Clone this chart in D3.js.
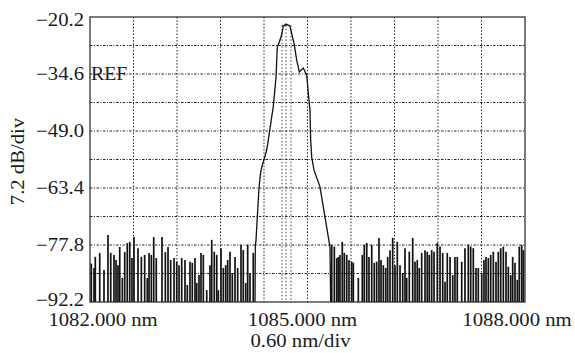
<!DOCTYPE html>
<html>
<head>
<meta charset="utf-8">
<script src="https://cdn.jsdelivr.net/npm/d3@7"></script>
<style>
  html, body { margin: 0; padding: 0; background: #fff; }
  svg { display: block; }
  text { font-family: "Liberation Serif", "DejaVu Serif", serif; fill: #1a1a1a; }
</style>
</head>
<body>
<div id="chart"></div>
<script>
// wavelength axis (nm) and level axis (dB)
const xDomain = [1082, 1088];
const yDomain = [-92.2, -20.2];
const xTickValues = [1082, 1085, 1088];
const xTickLabels = ['1082.000 nm', '1085.000 nm', '1088.000 nm'];
const yTickValues = [-20.2, -34.6, -49.0, -63.4, -77.8, -92.2];
const yTickLabels = ['\u221220.2', '\u221234.6', '\u221249.0', '\u221263.4', '\u221277.8', '\u221292.2'];

// main emission peak
const peakNm = [1084.276, 1084.280, 1084.290, 1084.308, 1084.331, 1084.354, 1084.377, 1084.400,
  1084.437, 1084.459, 1084.506, 1084.528, 1084.566, 1084.583, 1084.611, 1084.644, 1084.666,
  1084.703, 1084.759, 1084.796, 1084.814, 1084.851, 1084.887, 1084.942, 1084.989, 1085.011,
  1085.034, 1085.044, 1085.058, 1085.090, 1085.172, 1085.241, 1085.287, 1085.310, 1085.320];
const peakDb = [-92.2, -78.3, -76.5, -70.7, -63.4, -59.4, -57.6, -56.3,
  -53.8, -51.3, -45.5, -42.9, -35.4, -27.8, -26.5, -24.7, -22.5,
  -22.0, -22.5, -25.5, -26.8, -31.1, -34.1, -33.1, -34.9, -39.4,
  -43.7, -51.3, -55.6, -58.9, -63.1, -70.7, -75.8, -78.3, -92.2];

// noise floor spikes
const noiseNm = [1082.018, 1082.055, 1082.073, 1082.134, 1082.193, 1082.248, 1082.286, 1082.331,
  1082.359, 1082.386, 1082.410, 1082.446, 1082.479, 1082.514, 1082.548, 1082.579, 1082.607,
  1082.662, 1082.708, 1082.754, 1082.790, 1082.814, 1082.846, 1082.879, 1082.914, 1082.993,
  1083.039, 1083.076, 1083.113, 1083.159, 1083.196, 1083.228, 1083.265, 1083.310, 1083.342,
  1083.379, 1083.411, 1083.448, 1083.472, 1083.503, 1083.531, 1083.563, 1083.610, 1083.655,
  1083.679, 1083.714, 1083.748, 1083.770, 1083.807, 1083.839, 1083.872, 1083.899, 1083.931,
  1083.963, 1084.000, 1084.037, 1084.083, 1084.114, 1084.148, 1084.175, 1084.207, 1084.252,
  1085.334, 1085.370, 1085.403, 1085.425, 1085.448, 1085.480, 1085.508, 1085.541, 1085.572,
  1085.610, 1085.632, 1085.701, 1085.756, 1085.783, 1085.817, 1085.848, 1085.886, 1085.921,
  1085.954, 1085.986, 1086.014, 1086.046, 1086.079, 1086.106, 1086.138, 1086.175, 1086.207,
  1086.239, 1086.276, 1086.313, 1086.345, 1086.368, 1086.404, 1086.451, 1086.483, 1086.514,
  1086.542, 1086.575, 1086.621, 1086.652, 1086.680, 1086.713, 1086.745, 1086.790, 1086.828,
  1086.865, 1086.897, 1086.928, 1086.966, 1087.003, 1087.034, 1087.066, 1087.127, 1087.172,
  1087.218, 1087.251, 1087.287, 1087.324, 1087.356, 1087.403, 1087.434, 1087.462, 1087.494,
  1087.527, 1087.563, 1087.600, 1087.632, 1087.665, 1087.701, 1087.738, 1087.770, 1087.803,
  1087.830, 1087.862, 1087.894, 1087.921, 1087.954, 1087.977];
const noiseDb = [-82.5, -83.6, -80.8, -79.8, -84.1, -75.3, -79.8, -80.3,
  -81.6, -82.9, -78.3, -86.1, -79.6, -77.3, -77.0, -81.1, -75.8,
  -78.6, -80.8, -80.3, -86.1, -79.8, -80.3, -75.8, -81.1, -75.8,
  -79.6, -78.3, -81.6, -81.1, -82.0, -82.9, -81.1, -81.6, -87.9,
  -82.0, -82.3, -81.1, -87.4, -85.4, -79.8, -80.3, -89.2, -82.9,
  -76.5, -79.5, -80.3, -89.2, -78.6, -83.6, -82.9, -81.6, -79.5,
  -84.9, -80.8, -83.6, -77.8, -79.1, -87.4, -77.8, -84.9, -79.8,
  -77.8, -78.2, -81.1, -80.8, -80.3, -77.0, -79.8, -80.3, -81.6,
  -82.0, -82.3, -86.1, -80.3, -77.8, -77.3, -80.8, -77.8, -82.3,
  -82.0, -76.0, -81.6, -82.9, -83.6, -80.8, -79.1, -76.0, -82.9,
  -77.0, -82.9, -84.9, -78.6, -86.1, -79.5, -76.0, -82.0, -81.6,
  -83.6, -79.8, -79.1, -79.5, -80.3, -79.1, -79.5, -77.3, -78.2,
  -79.8, -87.1, -79.8, -80.8, -85.4, -80.8, -80.8, -82.0, -78.6,
  -77.8, -78.2, -78.6, -83.6, -83.6, -84.9, -81.6, -80.8, -81.1,
  -80.3, -79.5, -82.0, -79.5, -78.6, -78.2, -79.5, -83.3, -85.4,
  -80.8, -82.3, -86.6, -78.2, -77.8, -79.1];

// marker lines around the peak
const markerNm = [1084.648, 1084.703, 1084.772];
const markerTopDb = -22.3;

const W = 575, H = 353;
const margin = { top: 17, right: 50, bottom: 51, left: 90 };
const width = W - margin.left - margin.right;
const height = H - margin.top - margin.bottom;

const svg = d3.select('#chart').append('svg')
  .attr('width', W)
  .attr('height', H);

const g = svg.append('g')
  .attr('transform', `translate(${margin.left},${margin.top})`);

const x = d3.scaleLinear().domain(xDomain).range([0, width]);
const y = d3.scaleLinear().domain(yDomain).range([height, 0]);

// stretch text a bit horizontally, like the original rendering
function widen(sel, k) {
  sel.each(function () {
    const len = this.getComputedTextLength();
    d3.select(this).attr('textLength', len * k).attr('lengthAdjust', 'spacingAndGlyphs');
  });
}

// grid (10 divisions each way)
const gridX = d3.range(1, 10).map(i => xDomain[0] + i * (xDomain[1] - xDomain[0]) / 10);
const gridY = d3.range(1, 10).map(i => yDomain[0] + i * (yDomain[1] - yDomain[0]) / 10);

g.append('g').selectAll('line')
  .data(gridX)
  .enter().append('line')
  .attr('x1', d => x(d)).attr('x2', d => x(d))
  .attr('y1', 0).attr('y2', height)
  .attr('stroke', '#222')
  .attr('stroke-width', 1)
  .attr('stroke-dasharray', '1.5,1.8');

g.append('g').selectAll('line')
  .data(gridY)
  .enter().append('line')
  .attr('x1', 0).attr('x2', width)
  .attr('y1', d => y(d)).attr('y2', d => y(d))
  .attr('stroke', '#222')
  .attr('stroke-width', 1)
  .attr('stroke-dasharray', '2.5,1.5,1,1.5');

// marker lines
g.append('g').selectAll('line')
  .data(markerNm)
  .enter().append('line')
  .attr('x1', d => x(d)).attr('x2', d => x(d))
  .attr('y1', y(markerTopDb)).attr('y2', height)
  .attr('stroke', '#444')
  .attr('stroke-width', 1)
  .attr('stroke-dasharray', '1.5,2');

g.append('line')
  .attr('x1', x(markerNm[0])).attr('x2', x(markerNm[2]))
  .attr('y1', y(markerTopDb)).attr('y2', y(markerTopDb))
  .attr('stroke', '#444')
  .attr('stroke-dasharray', '1.5,1.5');

// noise spikes
const noise = noiseNm.map((d, i) => ({ nm: d, db: noiseDb[i] }));
g.append('g').selectAll('line')
  .data(noise)
  .enter().append('line')
  .attr('x1', d => x(d.nm)).attr('x2', d => x(d.nm))
  .attr('y1', y(yDomain[0])).attr('y2', d => y(d.db))
  .attr('stroke', '#111')
  .attr('stroke-width', 1.7);

// peak trace
const peak = peakNm.map((d, i) => ({ nm: d, db: peakDb[i] }));
const line = d3.line()
  .x(d => x(d.nm))
  .y(d => y(d.db));

g.append('path')
  .datum(peak)
  .attr('fill', 'none')
  .attr('stroke', '#111')
  .attr('stroke-width', 1.3)
  .attr('d', line);

// frame
g.append('rect')
  .attr('x', 0).attr('y', 0)
  .attr('width', width).attr('height', height)
  .attr('fill', 'none')
  .attr('stroke', '#222')
  .attr('stroke-width', 1.2);

// y tick labels
const yLab = g.append('g').selectAll('text')
  .data(yTickValues)
  .enter().append('text')
  .attr('x', -6)
  .attr('y', (d, i) => y(d) + (i === 0 ? 9 : i === yTickValues.length - 1 ? 4 : 6))
  .attr('text-anchor', 'end')
  .attr('font-size', 18)
  .text((d, i) => yTickLabels[i]);
widen(yLab, 1.15);

// REF label
const ref = g.append('text')
  .attr('x', 1)
  .attr('y', y(-34.6) + 6)
  .attr('font-size', 18)
  .text('REF');
widen(ref, 1.1);

// x tick labels
const xOffsets = [13, -5, -8];
const xLab = g.append('g').selectAll('text')
  .data(xTickValues)
  .enter().append('text')
  .attr('x', (d, i) => x(d) + xOffsets[i])
  .attr('y', height + 24)
  .attr('text-anchor', 'middle')
  .attr('font-size', 18)
  .text((d, i) => xTickLabels[i]);
widen(xLab, 1.15);

// axis titles
const xt = g.append('text')
  .attr('x', x(1085) - 7)
  .attr('y', height + 45)
  .attr('text-anchor', 'middle')
  .attr('font-size', 18)
  .text('0.60 nm/div');
widen(xt, 1.15);

const yt = svg.append('text')
  .attr('transform', `translate(24,${margin.top + height / 2 + 2}) rotate(-90)`)
  .attr('text-anchor', 'middle')
  .attr('font-size', 18)
  .text('7.2 dB/div');
widen(yt, 1.15);
</script>
</body>
</html>
